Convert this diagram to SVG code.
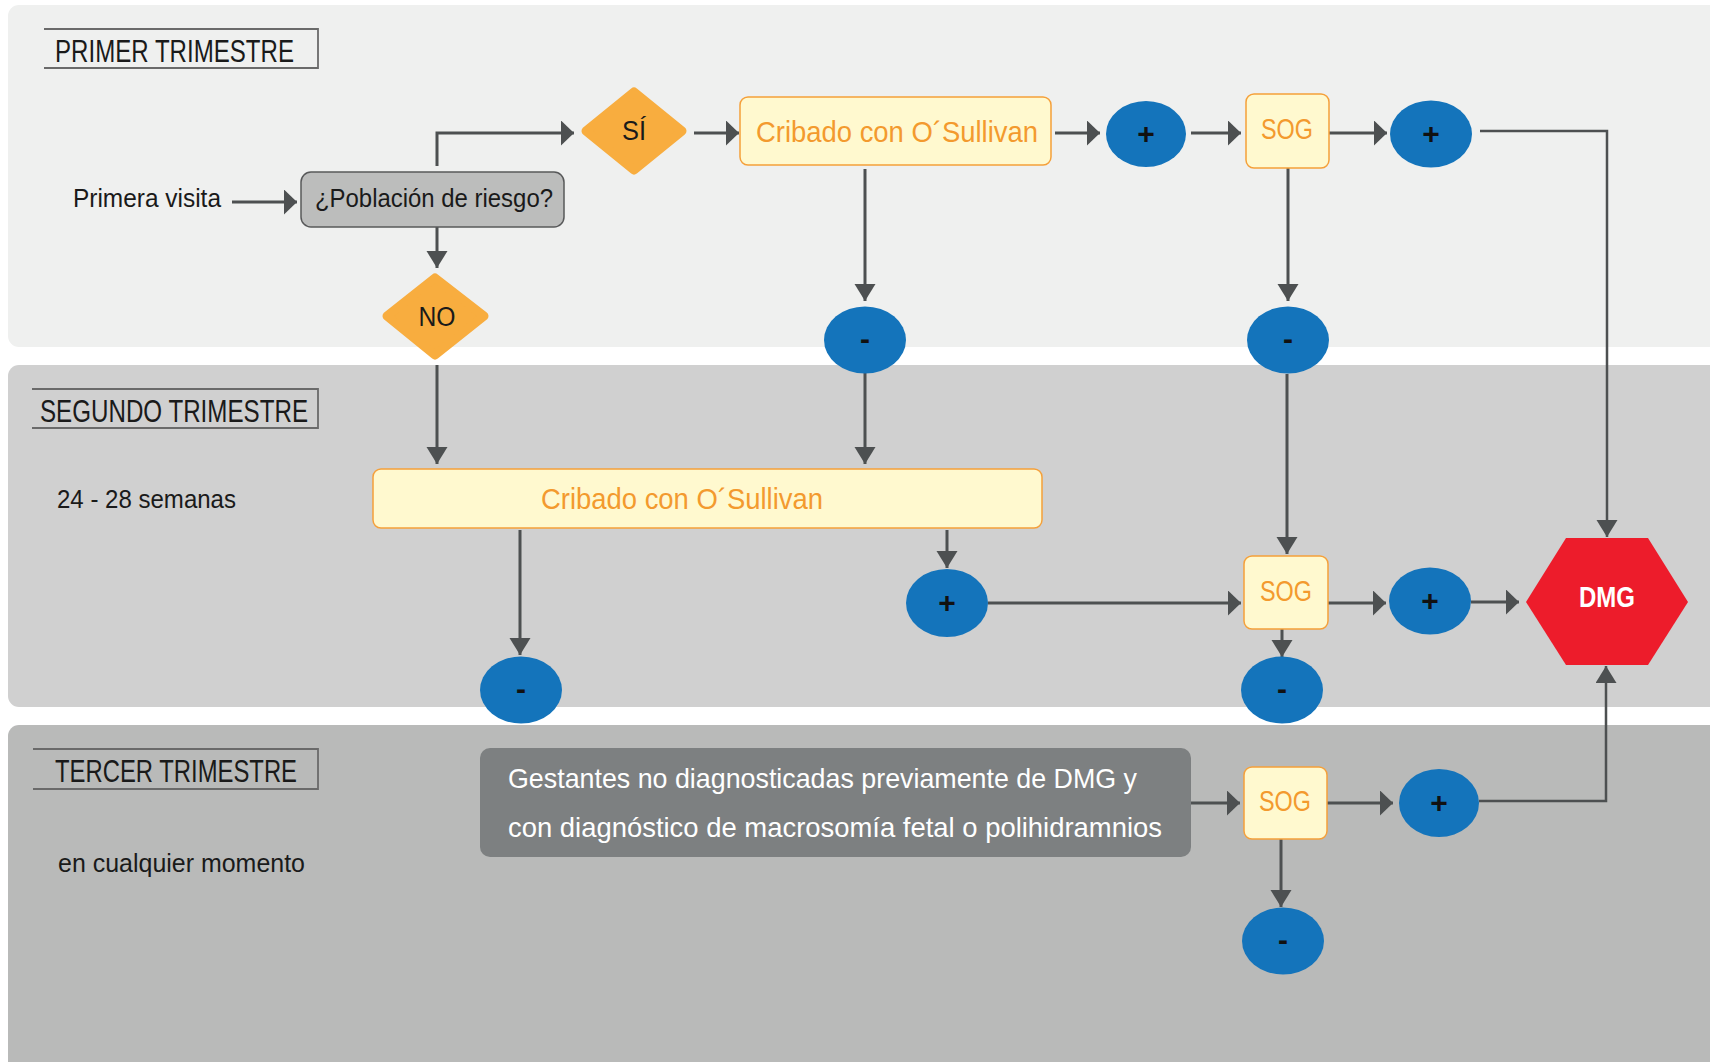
<svg xmlns="http://www.w3.org/2000/svg" width="1710" height="1062" viewBox="0 0 1710 1062">
<defs>
<style>
.t{font-family:"Liberation Sans","DejaVu Sans",sans-serif;}
.lbl{font-size:25px;fill:#1a1a1a;}
.ttl{font-size:32px;fill:#1a1a1a;}
.ob{font-size:30px;fill:#f39a2e;}
.sog{font-size:29px;fill:#f39a2e;}
.pm{font-size:30px;font-weight:bold;fill:#111;}
.c{fill:none;stroke:#4d5051;stroke-width:3;}
.yb{fill:#fff9cf;stroke:#f5a03a;stroke-width:1.5;}
.bl{fill:#1474bb;}
.dia{fill:#f8ad3f;stroke:#f8ad3f;stroke-width:9;stroke-linejoin:round;}
.frame{fill:none;stroke:#6a6a6a;stroke-width:1.8;}
</style>
<marker id="ah" markerUnits="userSpaceOnUse" markerWidth="14" markerHeight="26" refX="13" refY="12.5" orient="auto" viewBox="0 0 14 26">
<path d="M0,0 L13,12.5 L0,25 z" fill="#4d5051"/>
</marker>
<marker id="av" markerUnits="userSpaceOnUse" markerWidth="18" markerHeight="22" refX="17" refY="10.5" orient="auto" viewBox="0 0 18 22">
<path d="M0,0 L17,10.5 L0,21 z" fill="#4d5051"/>
</marker>
</defs>

<g id="panels">
<rect x="8" y="5" width="1730" height="342" rx="11" fill="#eff0ef"/>
<rect x="8" y="365" width="1730" height="342" rx="11" fill="#d0d0d0"/>
<rect x="8" y="725" width="1730" height="360" rx="11" fill="#b9bab9"/>
</g>

<g id="titles">
<path class="frame" d="M44,29 H318 V68 H44"/>
<text class="t ttl" x="55" y="62" textLength="239" lengthAdjust="spacingAndGlyphs">PRIMER TRIMESTRE</text>
<path class="frame" d="M32,389 H318 V428 H32"/>
<text class="t ttl" x="40" y="422" textLength="268" lengthAdjust="spacingAndGlyphs">SEGUNDO TRIMESTRE</text>
<path class="frame" d="M33,749 H318 V789 H33"/>
<text class="t ttl" x="55" y="782" textLength="242" lengthAdjust="spacingAndGlyphs">TERCER TRIMESTRE</text>
<text class="t lbl" x="73" y="207" textLength="148" lengthAdjust="spacingAndGlyphs">Primera visita</text>
<text class="t lbl" x="57" y="508" textLength="179" lengthAdjust="spacingAndGlyphs">24 - 28 semanas</text>
<text class="t lbl" x="58" y="872" textLength="247" lengthAdjust="spacingAndGlyphs">en cualquier momento</text>
</g>

<g id="connectors">
<path class="c" d="M232,202 H297" marker-end="url(#ah)"/>
<path class="c" d="M437,166 V133 H574" marker-end="url(#ah)"/>
<path class="c" d="M437,227 V268" marker-end="url(#av)"/>
<path class="c" d="M694,133 H739" marker-end="url(#ah)"/>
<path class="c" d="M865,169 V301" marker-end="url(#av)"/>
<path class="c" d="M1055,133 H1100" marker-end="url(#ah)"/>
<path class="c" d="M1191,133 H1241" marker-end="url(#ah)"/>
<path class="c" d="M1329,133 H1387" marker-end="url(#ah)"/>
<path class="c" style="stroke-width:2.5" d="M1480,131 H1607 V537" marker-end="url(#av)"/>
<path class="c" d="M1288,168 V301" marker-end="url(#av)"/>
<path class="c" d="M437,365 V464" marker-end="url(#av)"/>
<path class="c" d="M865,373 V464" marker-end="url(#av)"/>
<path class="c" d="M1287,374 V554" marker-end="url(#av)"/>
<path class="c" d="M520,530 V655" marker-end="url(#av)"/>
<path class="c" d="M947,530 V568" marker-end="url(#av)"/>
<path class="c" d="M988,603 H1241" marker-end="url(#ah)"/>
<path class="c" d="M1282,629 V657" marker-end="url(#av)"/>
<path class="c" d="M1328,603 H1386" marker-end="url(#ah)"/>
<path class="c" d="M1471,602 H1519" marker-end="url(#ah)"/>
<path class="c" d="M1191,803 H1240" marker-end="url(#ah)"/>
<path class="c" d="M1327,803 H1393" marker-end="url(#ah)"/>
<path class="c" style="stroke-width:2.5" d="M1479,801 H1606 V666" marker-end="url(#av)"/>
<path class="c" d="M1281,839 V907" marker-end="url(#av)"/>
</g>

<g id="poblacion">
<rect x="301" y="172" width="263" height="55" rx="10" fill="#bcbdbc" stroke="#58595a" stroke-width="1.5"/>
<text class="t lbl" x="315" y="207" textLength="238" lengthAdjust="spacingAndGlyphs">¿Población de riesgo?</text>
</g>

<g id="si">
<polygon class="dia" points="634,92 682,131 634,170 586,131"/>
<text class="t lbl" x="634" y="140" text-anchor="middle" style="font-size:27px" textLength="24" lengthAdjust="spacingAndGlyphs">SÍ</text>
</g>

<g id="no">
<polygon class="dia" points="435,278 484,316 435,355 387,316"/>
<text class="t lbl" x="437" y="326" text-anchor="middle" style="font-size:27px" textLength="37" lengthAdjust="spacingAndGlyphs">NO</text>
</g>

<g id="cribado1">
<rect class="yb" x="740" y="97" width="311" height="68" rx="8"/>
<text class="t ob" x="897" y="142" text-anchor="middle" textLength="282" lengthAdjust="spacingAndGlyphs">Cribado con O´Sullivan</text>
</g>

<g id="plus1">
<ellipse class="bl" cx="1146" cy="134" rx="40" ry="33"/>
<text class="t pm" x="1146" y="144" text-anchor="middle">+</text>
</g>

<g id="sog1">
<rect class="yb" x="1246" y="94" width="83" height="74" rx="8"/>
<text class="t sog" x="1287" y="139" text-anchor="middle" textLength="52" lengthAdjust="spacingAndGlyphs">SOG</text>
</g>

<g id="plus2">
<ellipse class="bl" cx="1431" cy="134" rx="41" ry="33.5"/>
<text class="t pm" x="1431" y="144" text-anchor="middle">+</text>
</g>

<g id="minus1">
<ellipse class="bl" cx="865" cy="340" rx="41" ry="33.5"/>
<text class="t pm" x="865" y="349" text-anchor="middle">-</text>
</g>

<g id="minus2">
<ellipse class="bl" cx="1288" cy="340" rx="41" ry="33.5"/>
<text class="t pm" x="1288" y="349" text-anchor="middle">-</text>
</g>

<g id="cribado2">
<rect class="yb" x="373" y="469" width="669" height="59" rx="8"/>
<text class="t ob" x="682" y="509" text-anchor="middle" textLength="282" lengthAdjust="spacingAndGlyphs">Cribado con O´Sullivan</text>
</g>

<g id="minus3">
<ellipse class="bl" cx="521" cy="690" rx="41" ry="33.5"/>
<text class="t pm" x="521" y="699" text-anchor="middle">-</text>
</g>

<g id="plus3">
<ellipse class="bl" cx="947" cy="603" rx="41" ry="34"/>
<text class="t pm" x="947" y="613" text-anchor="middle">+</text>
</g>

<g id="sog2">
<rect class="yb" x="1244" y="556" width="84" height="73" rx="8"/>
<text class="t sog" x="1286" y="601" text-anchor="middle" textLength="52" lengthAdjust="spacingAndGlyphs">SOG</text>
</g>

<g id="minus4">
<ellipse class="bl" cx="1282" cy="690" rx="41" ry="33.5"/>
<text class="t pm" x="1282" y="699" text-anchor="middle">-</text>
</g>

<g id="plus4">
<ellipse class="bl" cx="1430" cy="601" rx="41" ry="33.5"/>
<text class="t pm" x="1430" y="611" text-anchor="middle">+</text>
</g>

<g id="dmg">
<polygon points="1526,602 1566,538 1648,538 1688,602 1648,665 1566,665" fill="#ed1c2b"/>
<text class="t" x="1607" y="607" text-anchor="middle" style="font-size:29px;font-weight:bold;fill:#ffffff" textLength="56" lengthAdjust="spacingAndGlyphs">DMG</text>
</g>

<g id="gestantes">
<rect x="480" y="748" width="711" height="109" rx="10" fill="#7d8081"/>
<text class="t" x="508" y="788" style="font-size:28px;fill:#ffffff" textLength="629" lengthAdjust="spacingAndGlyphs">Gestantes no diagnosticadas previamente de DMG y</text>
<text class="t" x="508" y="837" style="font-size:28px;fill:#ffffff" textLength="654" lengthAdjust="spacingAndGlyphs">con diagnóstico de macrosomía fetal o polihidramnios</text>
</g>

<g id="sog3">
<rect class="yb" x="1244" y="767" width="83" height="72" rx="8"/>
<text class="t sog" x="1285" y="811" text-anchor="middle" textLength="52" lengthAdjust="spacingAndGlyphs">SOG</text>
</g>

<g id="plus5">
<ellipse class="bl" cx="1439" cy="803" rx="40" ry="34"/>
<text class="t pm" x="1439" y="813" text-anchor="middle">+</text>
</g>

<g id="minus5">
<ellipse class="bl" cx="1283" cy="941" rx="41" ry="33.5"/>
<text class="t pm" x="1283" y="950" text-anchor="middle">-</text>
</g>
</svg>
